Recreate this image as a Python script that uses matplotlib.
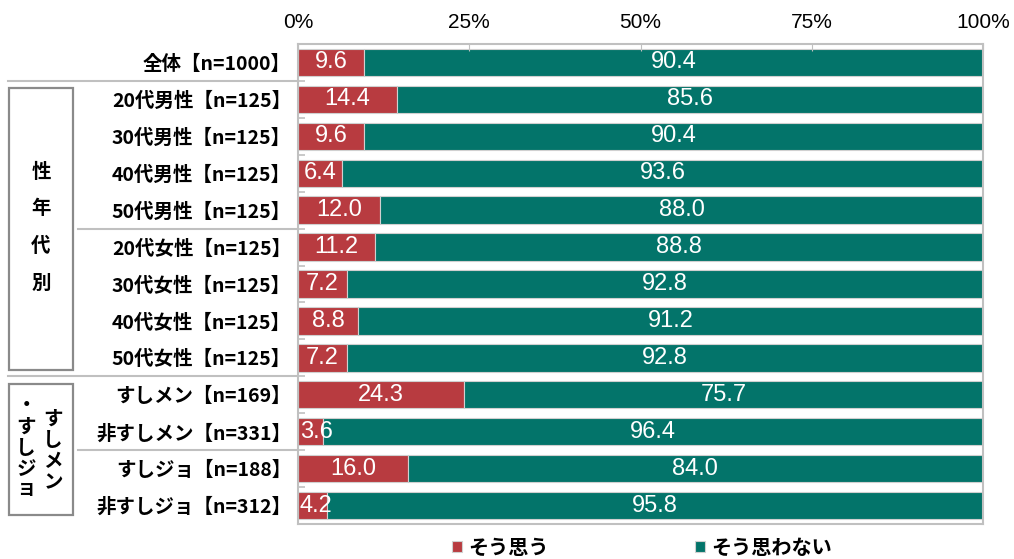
import matplotlib
matplotlib.use("Agg")
import matplotlib.pyplot as plt
import numpy as np
from matplotlib.patches import Rectangle
from matplotlib.lines import Line2D
from matplotlib.transforms import blended_transform_factory

plt.rcParams['font.family'] = ['Noto Sans CJK JP', 'DejaVu Sans']

# データ
categories = ['全体【n=1000】',
              '20代男性【n=125】', '30代男性【n=125】', '40代男性【n=125】', '50代男性【n=125】',
              '20代女性【n=125】', '30代女性【n=125】', '40代女性【n=125】', '50代女性【n=125】',
              'すしメン【n=169】', '非すしメン【n=331】', 'すしジョ【n=188】', '非すしジョ【n=312】']
sou_omou = [9.6, 14.4, 9.6, 6.4, 12.0, 11.2, 7.2, 8.8, 7.2, 24.3, 3.6, 16.0, 4.2]
sou_omowanai = [90.4, 85.6, 90.4, 93.6, 88.0, 88.8, 92.8, 91.2, 92.8, 75.7, 96.4, 84.0, 95.8]
series_names = ['そう思う', 'そう思わない']
x_ticks = [0, 25, 50, 75, 100]
x_ticklabels = ['0%', '25%', '50%', '75%', '100%']

RED = '#B83B40'
TEAL = '#03746A'
GRID = '#c0c0c0'
W, H = 1014, 559

fig = plt.figure(figsize=(W / 100, H / 100), dpi=100)
ax = fig.add_axes([298 / W, 1 - 524 / H, (983 - 298) / W, (524 - 44) / H])

y = np.arange(len(categories))
b1 = ax.barh(y, sou_omou, height=0.74, color=RED, edgecolor='#d0d0d0', linewidth=0.8,
             label=series_names[0])
b2 = ax.barh(y, sou_omowanai, left=sou_omou, height=0.74, color=TEAL, edgecolor='#d0d0d0',
             linewidth=0.8, label=series_names[1])

num_font = dict(family=['Liberation Sans', 'DejaVu Sans'], fontsize=17, color='white')
for yi, a, b in zip(y, sou_omou, sou_omowanai):
    if a < 5:
        # 狭い区間は左端に寄せる
        ax.text(0.25, yi, f'{a:.1f}', ha='left', va='center', **num_font)
    else:
        ax.text(a / 2, yi, f'{a:.1f}', ha='center', va='center', **num_font)
    ax.text(a + b / 2, yi, f'{b:.1f}', ha='center', va='center', **num_font)

ax.set_xlim(0, 100)
ax.set_ylim(len(categories) - 0.5, -0.5)

ax.xaxis.tick_top()
ax.set_xticks(x_ticks)
ax.set_xticklabels(x_ticklabels, family=['Liberation Sans', 'DejaVu Sans'], fontsize=15)
ax.tick_params(axis='x', direction='in', length=5, color=GRID, pad=9)

ax.set_yticks(y)
ax.set_yticklabels(categories, fontsize=14, fontweight='bold')
ax.tick_params(axis='y', length=0, pad=5)
ax.set_yticks(np.arange(len(categories) - 1) + 0.5, minor=True)
ax.tick_params(axis='y', which='minor', direction='in', length=5, color=GRID, width=1.2)

for s in ax.spines.values():
    s.set_color(GRID)
    s.set_linewidth(1.5)

# 区切り線
tr = blended_transform_factory(fig.transFigure, ax.transData)
for yb, x0 in [(0.5, 8), (4.5, 78), (8.5, 8), (10.5, 78)]:
    fig.add_artist(Line2D([x0 / W, 298 / W], [yb, yb], transform=tr, color=GRID, lw=1.5))

# グループ枠
def px_rect(x0, y0, x1, y1):
    fig.add_artist(Rectangle((x0 / W, 1 - y1 / H), (x1 - x0) / W, (y1 - y0) / H,
                             transform=fig.transFigure, fill=False, edgecolor='#8a8a8a', lw=1.6))

px_rect(9, 88, 73, 370)
px_rect(9, 384, 73, 515)

for ch, py in zip('性年代別', [172, 209, 246, 283]):
    fig.text(41 / W, 1 - py / H, ch, ha='center', va='center', fontsize=14, fontweight='bold')

for ch, py in zip('すしメン', [419, 441, 462, 483]):
    fig.text(53 / W, 1 - py / H, ch, ha='center', va='center', fontsize=14, fontweight='bold')
for ch, py in zip('・すしジョ', [405, 427, 449, 469, 489]):
    fig.text(26 / W, 1 - py / H, ch, ha='center', va='center', fontsize=14, fontweight='bold')

leg = fig.legend(handles=[b1, b2], loc='center', ncol=2, frameon=False,
                 bbox_to_anchor=((452 + 832) / 2 / W, 1 - 547 / H),
                 prop=dict(size=14.5, weight='bold'), handlelength=0.5, handleheight=0.5,
                 handletextpad=0.3, columnspacing=7.3)

fig.savefig('out.png', dpi=100)
